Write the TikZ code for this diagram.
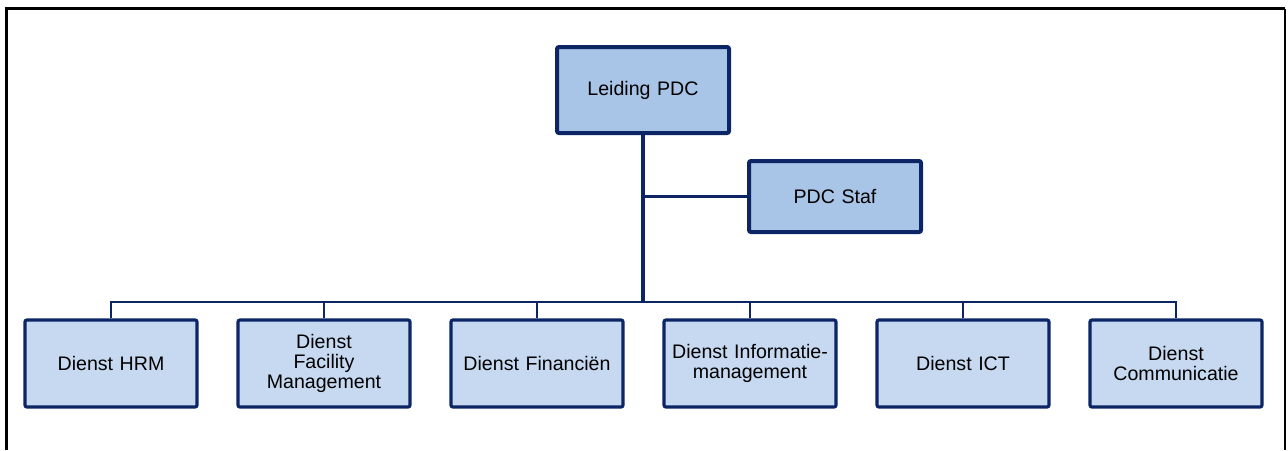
\documentclass[tikz,border=0pt]{standalone}
\usepackage{fontspec}
\setmainfont{Liberation Sans}
\usepackage{tikz}
\definecolor{navy}{HTML}{0B2565}
\definecolor{topfill}{HTML}{A8C5E8}
\definecolor{lowfill}{HTML}{C6D9F1}
\tikzset{
  unit/.style={draw=navy, line width=1.6pt, rounded corners=1pt, fill=lowfill,
    minimum width=86pt, minimum height=43.5pt, inner sep=0pt,
    align=center, text width=84pt, font=\fontsize{9.8pt}{9.8pt}\selectfont},
  head/.style={unit, fill=topfill, line width=2pt},
  wire/.style={draw=navy, line width=1.4pt}
}
\begin{document}
\begin{tikzpicture}[x=0.5pt, y=-0.5pt]
                \useasboundingbox (0, 0) rectangle (1288, 450);
                \draw[line width=1.5pt] (6.5, 450) -- (6.5, 8.5) -- (1285, 8.5);
                \draw[line width=0.8pt] (1285, 8.5) -- (1285, 450);
                % top
                \node[head, minimum height=43pt] (leiding) at (643, 90) {Leiding PDC};
                \node[head, minimum height=35.5pt] (staf) at (835, 196.5) {PDC Staf};
                % diensten
                \node[unit] (hrm) at (111, 363.5) {Dienst HRM};
                \node[unit] (fm) at (324, 363.5) {Dienst\\Facility\\Management};
                \node[unit] (fin) at (537, 363.5) {Dienst Financiën};
                \node[unit] (im) at (750, 363.5) {Dienst Informatie-\\management};
                \node[unit] (ict) at (963, 363.5) {Dienst ICT};
                \node[unit] (comm) at (1176, 363.5) {Dienst\\Communicatie};
                \coordinate (bus) at (643, 302);
                \draw[wire, line width=1.6pt] (leiding.south) -- (bus);
                \draw[wire] (staf.west) -- (staf.west -| leiding.south);
                \draw[wire] (hrm.north) |- (bus) -| (comm.north);
                \foreach \d in {fm, fin, im, ict}
                    \draw[wire] (\d.north) -- (\d.north |- bus);
            \end{tikzpicture}
\end{document}
